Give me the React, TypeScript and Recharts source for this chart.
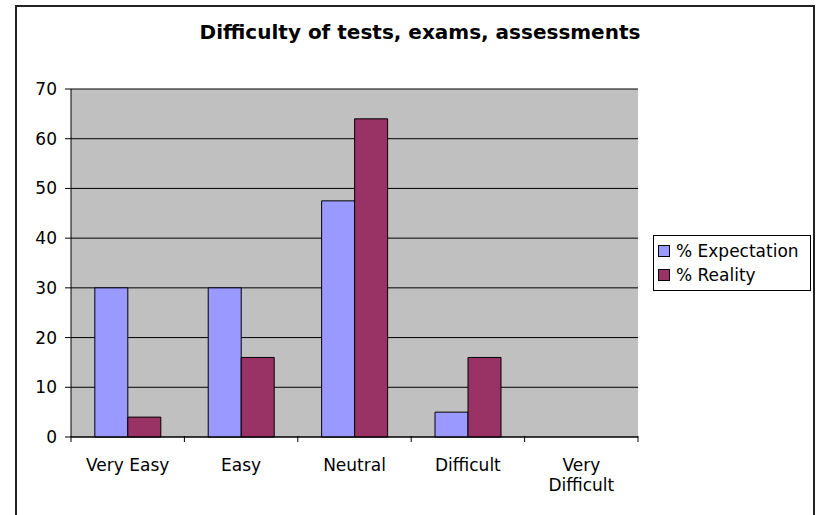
import React from "react";
import { BarChart, Bar, XAxis, YAxis, CartesianGrid, Legend } from "recharts";

const categories = ["Very Easy", "Easy", "Neutral", "Difficult", "Very Difficult"];
const expectation = [30, 30, 47.5, 5, 0];
const reality = [4, 16, 64, 16, 0];
const yTicks = [0, 10, 20, 30, 40, 50, 60, 70];

const data = categories.map((name, i) => ({
  name,
  expectation: expectation[i],
  reality: reality[i],
}));

const FONT = "'DejaVu Sans', Verdana, sans-serif";
const BLUE = "#9999FF";
const MAROON = "#993366";
const LABEL_SIZE = 17;

function wrapWords(label: string, maxWidth: number): string[] {
  const approx = (s: string) => s.length * LABEL_SIZE * 0.6;
  const words = label.split(" ");
  const lines: string[] = [];
  let cur = "";
  for (const w of words) {
    const next = cur ? cur + " " + w : w;
    if (cur && approx(next) > maxWidth) {
      lines.push(cur);
      cur = w;
    } else {
      cur = next;
    }
  }
  if (cur) lines.push(cur);
  return lines;
}

const CatTick = (props: any) => {
  const { x, y, payload, width, visibleTicksCount, index } = props;
  const band = width / visibleTicksCount;
  const left = x - band / 2;
  const right = x + band / 2;
  const lines = wrapWords(String(payload.value), band - 8);
  return (
    <g>
      <line x1={left} x2={left} y1={y - 1} y2={y + 5} stroke="#000" />
      {index === visibleTicksCount - 1 && (
        <line x1={right} x2={right} y1={y - 1} y2={y + 5} stroke="#000" />
      )}
      <text
        x={x}
        y={y + 34}
        textAnchor="middle"
        fontSize={LABEL_SIZE}
        fontFamily={FONT}
        fill="#000"
      >
        {lines.map((ln, i) => (
          <tspan key={i} x={x} dy={i === 0 ? 0 : 20}>
            {ln}
          </tspan>
        ))}
      </text>
    </g>
  );
};

const LegendBox = (props: any) => {
  const items = [
    { label: "% Expectation", color: BLUE },
    { label: "% Reality", color: MAROON },
  ];
  return (
    <div
      style={{
        border: "1px solid #000",
        background: "#fff",
        padding: "3px 4px 5px 4px",
        fontFamily: FONT,
        fontSize: 17,
        color: "#000",
        boxSizing: "border-box",
        width: 158,
        height: 56,
      }}
    >
      {items.map((it) => (
        <div key={it.label} style={{ display: "flex", alignItems: "center", height: 24 }}>
          <span
            style={{
              display: "inline-block",
              width: 10,
              height: 10,
              background: it.color,
              border: "1px solid #000",
              marginRight: 6,
            }}
          />
          <span>{it.label}</span>
        </div>
      ))}
    </div>
  );
};

export default function App() {
  return (
    <div style={{ position: "absolute", left: 0, top: 0, width: 821, height: 515, background: "#fff", overflow: "hidden" }}>
      <div
        style={{
          position: "absolute",
          left: 15,
          top: 5,
          width: 800,
          height: 530,
          border: "2px solid #222",
          boxSizing: "border-box",
        }}
      />
      <div
        style={{
          position: "absolute",
          left: 21,
          top: 20,
          width: 798,
          textAlign: "center",
          fontFamily: FONT,
          fontWeight: "bold",
          fontSize: 20,
          lineHeight: "24px",
          color: "#000",
        }}
      >
        Difficulty of tests, exams, assessments
      </div>
      <div style={{ position: "absolute", left: 0, top: 0 }}>
        <BarChart
          width={821}
          height={515}
          data={data}
          margin={{ top: 89, right: 183, bottom: 77, left: 11 }}
          barGap={0}
          barCategoryGap="21%"
        >
          <CartesianGrid horizontal vertical={false} stroke="#000" fill="#C0C0C0" />
          <XAxis
            dataKey="name"
            height={1}
            tick={<CatTick />}
            tickLine={false}
            tickSize={0}
            tickMargin={0}
            axisLine={{ stroke: "#000" }}
            interval={0}
          />
          <YAxis
            width={60}
            domain={[0, 70]}
            ticks={yTicks}
            interval={0}
            tickSize={6}
            tickMargin={8}
            axisLine={{ stroke: "#000" }}
            tickLine={{ stroke: "#000" }}
            tick={{ fontSize: 17, fontFamily: FONT, fill: "#000" }}
          />
          <Legend
            layout="vertical"
            align="center"
            verticalAlign="middle"
            content={<LegendBox />}
            wrapperStyle={{ left: 653, top: 235, width: 158, height: 56 }}
          />
          <Bar
            dataKey="expectation"
            name="% Expectation"
            fill={BLUE}
            stroke="#000"
            strokeWidth={1}
            isAnimationActive={false}
          />
          <Bar
            dataKey="reality"
            name="% Reality"
            fill={MAROON}
            stroke="#000"
            strokeWidth={1}
            isAnimationActive={false}
          />
        </BarChart>
      </div>
    </div>
  );
}
